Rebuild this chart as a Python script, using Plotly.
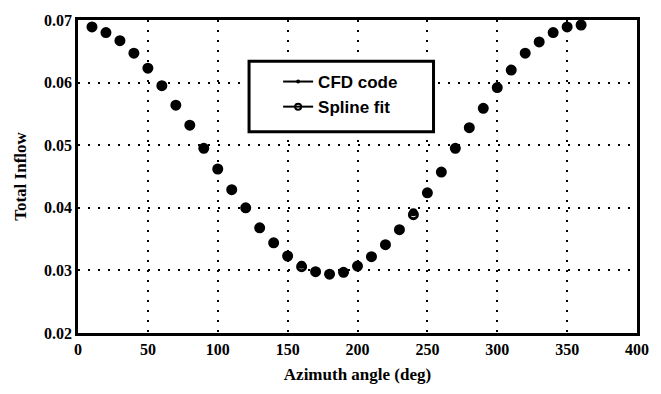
import plotly.graph_objects as go

azimuth = [10, 20, 30, 40, 50, 60, 70, 80, 90, 100, 110, 120, 130, 140, 150, 160, 170, 180,
           190, 200, 210, 220, 230, 240, 250, 260, 270, 280, 290, 300, 310, 320, 330, 340, 350, 360]
cfd_code = [0.0690, 0.0680, 0.0667, 0.0647, 0.0622, 0.0595, 0.0564, 0.0531, 0.0495, 0.0461,
            0.0428, 0.0400, 0.0367, 0.0344, 0.0324, 0.0309, 0.0298, 0.0294, 0.0297, 0.0306,
            0.0322, 0.0341, 0.0365, 0.0393, 0.0424, 0.0457, 0.0495, 0.0528, 0.0559, 0.0592,
            0.0620, 0.0647, 0.0665, 0.0680, 0.0689, 0.0692]
spline_fit = [0.0689, 0.0680, 0.0667, 0.0647, 0.0623, 0.0595, 0.0564, 0.0532, 0.0495, 0.0462,
              0.0429, 0.0400, 0.0368, 0.0344, 0.0323, 0.0306, 0.0298, 0.0294, 0.0297, 0.0307,
              0.0322, 0.0341, 0.0365, 0.0389, 0.0424, 0.0457, 0.0495, 0.0528, 0.0559, 0.0592,
              0.0620, 0.0647, 0.0665, 0.0680, 0.0689, 0.0692]
x_ticks = [0, 50, 100, 150, 200, 250, 300, 350, 400]
y_ticks = [0.02, 0.03, 0.04, 0.05, 0.06, 0.07]
y_tick_labels = ["0.02", "0.03", "0.04", "0.05", "0.06", "0.07"]

fig = go.Figure()
fig.add_trace(go.Scatter(x=azimuth, y=spline_fit, mode="markers", showlegend=False,
                         marker=dict(symbol="circle-open", size=8, color="black",
                                     line=dict(width=3, color="black"))))
fig.add_trace(go.Scatter(x=azimuth, y=cfd_code, mode="markers", showlegend=False,
                         marker=dict(symbol="circle", size=8, color="black")))
# legend-only entries
fig.add_trace(go.Scatter(x=[None], y=[None], mode="lines+markers", name="<b>CFD code</b>",
                         marker=dict(symbol="circle", size=4, color="black"),
                         line=dict(color="black", width=2)))
fig.add_trace(go.Scatter(x=[None], y=[None], mode="lines+markers", name="<b>Spline fit</b>",
                         marker=dict(symbol="circle-open", size=6, color="black",
                                     line=dict(width=2, color="black")),
                         line=dict(color="black", width=2)))

# legend frame
fig.add_shape(type="rect", xref="paper", yref="paper", x0=0.306, x1=0.636, y0=0.643, y1=0.868,
              line=dict(color="black", width=3), fillcolor="white", layer="above")

tick_font = dict(family="Liberation Serif", size=16, color="black")
title_font = dict(family="Liberation Serif", size=17, color="black")
fig.update_layout(
    width=661, height=394,
    margin=dict(l=78, r=14, t=16, b=59),
    paper_bgcolor="white", plot_bgcolor="white",
    font=dict(family="Liberation Serif", color="black"),
    legend=dict(x=0.358, y=0.762, xanchor="left", yanchor="middle",
                borderwidth=0, bgcolor="rgba(0,0,0,0)",
                font=dict(family="Liberation Sans", size=17, color="black"),
                itemwidth=30, tracegroupgap=0),
    xaxis=dict(range=[0, 400], tickvals=x_ticks, ticktext=["<b>%d</b>" % v for v in x_ticks],
               showgrid=True, gridcolor="black", gridwidth=1.5, griddash="2px,8px",
               showline=True, linecolor="black", linewidth=2.5, mirror=True,
               ticks="", tickfont=tick_font, zeroline=False,
               title=dict(text="<b>Azimuth angle (deg)</b>", font=title_font, standoff=12)),
    yaxis=dict(range=[0.02, 0.07], tickvals=y_ticks, ticktext=["<b>%s</b>" % t for t in y_tick_labels],
               showgrid=True, gridcolor="black", gridwidth=1.5, griddash="2px,8px",
               showline=True, linecolor="black", linewidth=2.5, mirror=True,
               ticks="", tickfont=tick_font, zeroline=False,
               title=dict(text="<b>Total Inflow</b>", font=title_font, standoff=14)),
)
fig.write_html("out.html")
